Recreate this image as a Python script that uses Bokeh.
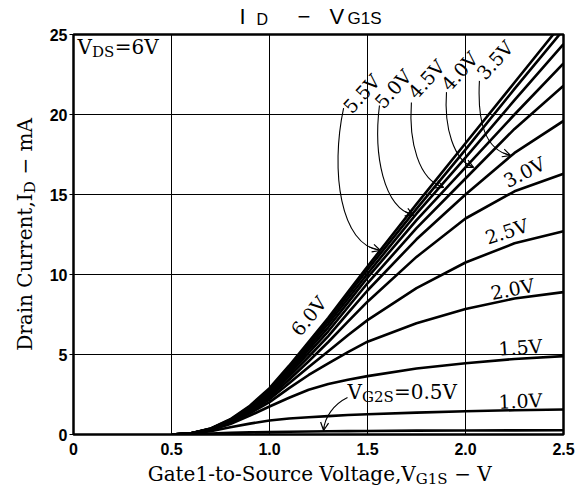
import math
from bokeh.plotting import figure
from bokeh.layouts import row, column
from bokeh.models import Range1d, FixedTicker, Label, Arrow, OpenHead, ColumnDataSource
from bokeh.embed import file_html
from bokeh.resources import INLINE

# ---------------- data ----------------
vg1s = [0.5, 0.6, 0.7, 0.8, 0.9, 1.0, 1.1, 1.2, 1.3, 1.4, 1.5, 1.75, 2.0, 2.25, 2.5]

id_vg2s_6_0 = [0.0, 0.08, 0.38, 0.95, 1.80, 2.90, 4.30, 5.80, 7.30, 8.90, 10.50, 14.40, 18.20, 22.00, 25.80]
id_vg2s_5_5 = [0.0, 0.08, 0.37, 0.92, 1.75, 2.82, 4.18, 5.65, 7.12, 8.70, 10.30, 14.10, 17.80, 21.60, 25.30]
id_vg2s_5_0 = [0.0, 0.07, 0.36, 0.90, 1.70, 2.74, 4.05, 5.48, 6.92, 8.48, 10.05, 13.80, 17.30, 20.90, 24.40]
id_vg2s_4_5 = [0.0, 0.07, 0.35, 0.87, 1.65, 2.65, 3.92, 5.30, 6.70, 8.24, 9.80, 13.40, 16.70, 20.00, 23.20]
id_vg2s_4_0 = [0.0, 0.07, 0.34, 0.84, 1.60, 2.55, 3.78, 5.10, 6.45, 7.95, 9.45, 12.90, 16.00, 19.10, 21.80]
id_vg2s_3_5 = [0.0, 0.07, 0.33, 0.81, 1.54, 2.45, 3.62, 4.86, 6.15, 7.58, 9.00, 12.20, 15.00, 17.60, 19.60]
id_vg2s_3_0 = [0.0, 0.06, 0.32, 0.78, 1.47, 2.33, 3.42, 4.58, 5.78, 7.05, 8.30, 11.10, 13.50, 15.20, 16.30]
id_vg2s_2_5 = [0.0, 0.06, 0.31, 0.75, 1.40, 2.20, 3.20, 4.22, 5.20, 6.20, 7.15, 9.15, 10.75, 11.95, 12.70]
id_vg2s_2_0 = [0.0, 0.06, 0.29, 0.71, 1.32, 2.02, 2.90, 3.72, 4.45, 5.15, 5.80, 6.95, 7.85, 8.50, 8.90]
id_vg2s_1_5 = [0.0, 0.06, 0.27, 0.65, 1.18, 1.75, 2.30, 2.80, 3.15, 3.42, 3.65, 4.12, 4.45, 4.72, 4.90]
id_vg2s_1_0 = [0.0, 0.05, 0.20, 0.45, 0.68, 0.87, 1.00, 1.08, 1.15, 1.22, 1.27, 1.37, 1.45, 1.52, 1.56]
id_vg2s_0_5 = [0.0, 0.02, 0.06, 0.10, 0.13, 0.15, 0.17, 0.19, 0.20, 0.21, 0.22, 0.24, 0.25, 0.26, 0.27]

x_ticks = [0, 0.5, 1.0, 1.5, 2.0, 2.5]
x_tick_labels = ["0", "0.5", "1.0", "1.5", "2.0", "2.5"]
y_ticks = [0, 5, 10, 15, 20, 25]

# curve labels: text, x, y (data), angle in degrees
curve_label_text = ["6.0V", "3.0V", "2.5V", "2.0V", "1.5V", "1.0V",
                    "5.5V", "5.0V", "4.5V", "4.0V", "3.5V"]
curve_label_x = [1.20, 2.30, 2.21, 2.24, 2.28, 2.28, 1.47, 1.63, 1.80, 1.97, 2.15]
curve_label_y = [7.4, 16.4, 12.7, 9.1, 5.45, 2.1, 21.3, 21.6, 22.2, 22.7, 23.4]
curve_label_angle = [51, 27, 18, 11, 4, 2, 48, 48, 48, 48, 48]

# leader arrows (cubic bezier): start, control 1, control 2, end (data units)
arrow_x0 = [1.378, 1.561, 1.724, 1.903, 2.071, 1.398]
arrow_y0 = [20.40, 20.56, 20.75, 21.40, 22.10, 2.31]
arrow_cx0 = [1.31, 1.53, 1.71, 1.89, 2.06, 1.33]
arrow_cy0 = [16.5, 17.5, 18.3, 19.2, 19.5, 1.9]
arrow_cx1 = [1.36, 1.58, 1.76, 1.94, 2.10, 1.28]
arrow_cy1 = [11.8, 14.2, 15.9, 17.1, 17.8, 1.1]
arrow_x1 = [1.566, 1.735, 1.888, 2.041, 2.23, 1.276]
arrow_y1 = [11.50, 13.70, 15.44, 16.70, 17.44, 0.25]

# ---------------- layout (page pixels) ----------------
W, H = 579, 488
YT_W = 40            # left strip holding the y-axis title
TT_H = 28            # top strip holding the chart title
FL, FT = 73, 34      # frame left / top on the page
FW, FH = 490, 400
BORDER_L = FL - YT_W                 # main figure left border
BORDER_R = W - FL - FW               # main figure right border
BORDER_T = FT - TT_H
BORDER_B = 27
MAIN_W = W - YT_W
MAIN_H = BORDER_T + FH + BORDER_B
XT_TOP = TT_H + MAIN_H
XT_H = H - XT_TOP
XMAX, YMAX = 2.5, 25.0


def to_data(px, py):
    return (px - FL) / FW * XMAX, (FT + FH - py) / FH * YMAX


p = figure(width=MAIN_W, height=MAIN_H, output_backend="svg", toolbar_location=None,
           x_range=Range1d(0, XMAX), y_range=Range1d(0, YMAX),
           min_border_left=BORDER_L, min_border_right=BORDER_R,
           min_border_top=BORDER_T, min_border_bottom=BORDER_B)
p.title.visible = False
p.background_fill_color = "white"
p.border_fill_color = "white"
p.outline_line_color = "black"
p.outline_line_width = 2.5
p.outline_line_alpha = 1.0

p.xaxis.ticker = FixedTicker(ticks=x_ticks)
p.xaxis.major_label_overrides = {t: l for t, l in zip(x_ticks, x_tick_labels)}
p.yaxis.ticker = FixedTicker(ticks=y_ticks)
p.xgrid.ticker = FixedTicker(ticks=x_ticks)
p.ygrid.ticker = FixedTicker(ticks=y_ticks)
for g in (p.xgrid, p.ygrid):
    g.grid_line_color = "black"
    g.grid_line_width = 1
    g.grid_line_alpha = 1.0

for ax in (p.xaxis, p.yaxis):
    ax.axis_line_color = None
    ax.minor_tick_line_color = None
    ax.major_label_text_font = "Liberation Sans"
    ax.major_label_text_font_style = "bold"
    ax.major_label_text_font_size = "16px"
    ax.major_label_text_color = "black"
    ax.major_tick_line_color = "black"
    ax.major_tick_in = 0
p.yaxis.major_tick_out = 4
p.yaxis.major_label_standoff = 2
p.xaxis.major_tick_out = 0
p.xaxis.major_label_standoff = 8

# ---------------- curves ----------------
for ys in [id_vg2s_0_5, id_vg2s_1_0, id_vg2s_1_5, id_vg2s_2_0, id_vg2s_2_5, id_vg2s_3_0,
           id_vg2s_3_5, id_vg2s_4_0, id_vg2s_4_5, id_vg2s_5_0, id_vg2s_5_5, id_vg2s_6_0]:
    p.line(vg1s, ys, line_color="black", line_width=2.6, line_join="round")

# ---------------- leader arrows ----------------
src = ColumnDataSource(dict(x0=arrow_x0, y0=arrow_y0, cx0=arrow_cx0, cy0=arrow_cy0,
                            cx1=arrow_cx1, cy1=arrow_cy1, x1=arrow_x1, y1=arrow_y1))
p.bezier(x0="x0", y0="y0", x1="x1", y1="y1", cx0="cx0", cy0="cy0", cx1="cx1", cy1="cy1",
         source=src, line_color="black", line_width=1.1)


def bez(t, a, b, c, d):
    u = 1 - t
    return u**3 * a + 3 * u * u * t * b + 3 * u * t * t * c + t**3 * d


for i in range(len(arrow_x0)):
    t = 0.9
    xs = bez(t, arrow_x0[i], arrow_cx0[i], arrow_cx1[i], arrow_x1[i])
    ys = bez(t, arrow_y0[i], arrow_cy0[i], arrow_cy1[i], arrow_y1[i])
    p.add_layout(Arrow(end=OpenHead(size=8, line_width=1.2, line_color="black"),
                       x_start=xs, y_start=ys, x_end=arrow_x1[i], y_end=arrow_y1[i],
                       line_width=1.1, line_color="black"))

# ---------------- texts ----------------
SERIF = "DejaVu Serif"
SANS = "Liberation Sans"
MID = 0.346   # distance (em) from baseline up to the middle of the font box
SERIF_W = {"V": .722, "D": .833, "S": .684, "G": .815, ".": .318, "=": .838, " ": .318,
           "−": .838, "I": .402, "m": .954, "A": .722, "a": .598, "r": .478, "i": .320,
           "n": .646, "C": .735, "u": .646, "e": .592, "t": .402, ",": .318, "o": .602,
           "l": .320, "g": .644, "c": .562, "-": .339}
for dgt in "0123456789":
    SERIF_W[dgt] = .636


def text_w(s, size):
    return sum(SERIF_W.get(c, 0.6) for c in s) * size


def rich(jx, jy, first, rest, angle=0.0):
    """First piece ends at the junction (jx, jy) on the baseline; the others follow it.
    Returns pieces (page_x, page_y, text, size, angle, align) anchored at mid-height."""
    a = math.radians(angle)
    ux, uy = math.cos(a), -math.sin(a)      # advance direction
    dx, dy = math.sin(a), math.cos(a)       # downward direction
    out = []
    t0, s0, sh0 = first
    off = sh0 - MID * s0
    out.append((jx + dx * off, jy + dy * off, t0, s0, angle, "right"))
    x, y = jx, jy
    for text, size, shift in rest:
        lead = len(text) - len(text.lstrip(" "))
        if lead:
            w = text_w(" " * lead, size)
            x += ux * w
            y += uy * w
            text = text.lstrip(" ")
        off = shift - MID * size
        out.append((x + dx * off, y + dy * off, text, size, angle, "left"))
        w = text_w(text, size)
        x += ux * w
        y += uy * w
    return out


def add_labels(fig, pieces, conv, font=SERIF):
    for px, py, text, size, angle, align in pieces:
        vx, vy = conv(px, py)
        fig.add_layout(Label(x=vx, y=vy, text=text, angle=angle, angle_units="deg",
                             text_font=font, text_font_size=f"{size}px",
                             text_align=align, text_baseline="middle",
                             text_color="black"))


def text_strip(w, h, bl, br, bt, bb):
    f = figure(width=w, height=h, output_backend="svg", toolbar_location=None,
               x_range=Range1d(0, w - bl - br), y_range=Range1d(0, h - bt - bb),
               x_axis_type=None, y_axis_type=None,
               min_border_left=bl, min_border_right=br,
               min_border_top=bt, min_border_bottom=bb)
    f.title.visible = False
    f.grid.visible = False
    f.outline_line_color = None
    f.background_fill_color = "white"
    f.border_fill_color = "white"
    return f


# curve labels
for t, x, y, a in zip(curve_label_text, curve_label_x, curve_label_y, curve_label_angle):
    p.add_layout(Label(x=x, y=y, text=t, angle=a, angle_units="deg", text_font=SERIF,
                       text_font_size="19px", text_align="center", text_baseline="middle",
                       text_color="black"))

# V_DS = 6V  and  V_G2S = 0.5V (inside the frame)
add_labels(p, rich(77 + text_w("V", 20), 53, ("V", 20, 0), [("DS", 15, 4), ("=6V", 20, 0)]),
           to_data)
add_labels(p, rich(347 + text_w("V", 20), 398, ("V", 20, 0), [("G2S", 15, 4), ("=0.5V", 20, 0)]),
           to_data)

# chart title strip: page x YT_W..W, y 0..TT_H ; frame x FL..FL+FW
tfig = text_strip(MAIN_W, TT_H, BORDER_L, BORDER_R, 0, 0)
title_text = ["I", "D", "−", "V", "G1S"]
title_px = [239, 256, 297, 329, 347]
title_size = [22, 16, 22, 22, 17]
title_base = [23.3, 24.4, 23.3, 23.3, 24.3]
tpieces = [(px, b - MID * s, t, s, 0, "left")
           for t, px, s, b in zip(title_text, title_px, title_size, title_base)]
add_labels(tfig, tpieces, lambda px, py: (px - FL, TT_H - py), SANS)

# x-axis title strip: page x YT_W..W, y XT_TOP..H ; frame x FL..FL+FW
xfig = text_strip(MAIN_W, XT_H, BORDER_L, BORDER_R, 0, 0)
xt_main = ("Gate1-to-Source Voltage,V", 20, 0)
xt_rest = [("G1S", 15, 4), (" − V", 20, 0)]
xt_total = text_w(xt_main[0], 20) + sum(text_w(t, s) for t, s, _ in xt_rest)
jx = FL + FW / 2 - xt_total / 2 + text_w(xt_main[0], 20)
add_labels(xfig, rich(jx, 480, xt_main, xt_rest), lambda px, py: (px - FL, H - py))

# y-axis title strip: page x 0..YT_W, y 0..H ; frame y FT..FT+FH
yfig = text_strip(YT_W, H, 0, 0, FT, H - FT - FH)
yt_main = ("Drain Current,I", 20, 0)
yt_rest = [("D", 15, 4), (" − mA", 20, 0)]
yt_total = text_w(yt_main[0], 20) + sum(text_w(t, s) for t, s, _ in yt_rest)
jy = FT + FH / 2 + yt_total / 2 - text_w(yt_main[0], 20)
add_labels(yfig, rich(31, jy, yt_main, yt_rest, angle=90), lambda px, py: (px, FT + FH - py))

layout = row(yfig, column(tfig, p, xfig, spacing=0), spacing=0)
open("out.html", "w").write(file_html(layout, INLINE))
